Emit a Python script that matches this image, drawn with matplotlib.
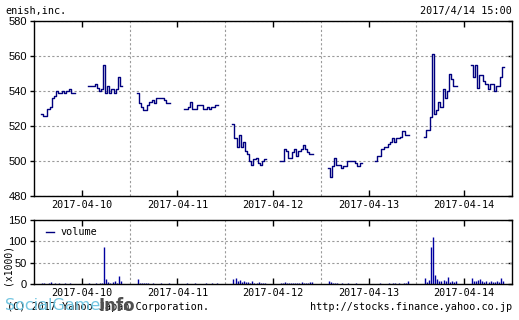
import numpy as np
import matplotlib
matplotlib.use("Agg")
import matplotlib.pyplot as plt
from matplotlib.lines import Line2D

# ---------------- data ----------------
dates = ["2017-04-10", "2017-04-11", "2017-04-12", "2017-04-13", "2017-04-14"]
ticker = "enish,inc."
stamp = "2017/4/14 15:00"

# sessions in minutes of day (morning, afternoon)
am_session = (540, 690)   # 9:00 - 11:30
pm_session = (750, 900)   # 12:30 - 15:00
win_start, win_len = 508, 426  # chart window per day (minutes)

price_am = [
    [527, 526, 526, 530, 531, 536, 537, 540, 539, 539, 540, 539, 540, 541, 539, 539],
    [539, 533, 531, 529, 529, 532, 534, 535, 533, 536, 536, 536, 536, 535, 533, 533],
    [521, 513, 508, 515, 508, 511, 506, 504, 500, 498, 501, 502, 499, 498, 500, 501],
    [496, 491, 497, 502, 498, 498, 496, 497, 497, 500, 500, 500, 500, 499, 497, 499],
    [514, 518, 518, 525, 561, 527, 529, 534, 531, 541, 536, 540, 550, 547, 543, 543],
]
price_pm = [
    [543, 543, 543, 544, 542, 540, 541, 555, 539, 543, 539, 541, 539, 541, 548, 543],
    [530, 530, 531, 534, 530, 530, 532, 532, 532, 530, 530, 531, 530, 531, 531, 532],
    [500, 500, 507, 506, 502, 502, 505, 507, 503, 506, 507, 509, 507, 505, 504, 504],
    [500, 503, 503, 507, 508, 508, 510, 511, 513, 511, 513, 513, 514, 517, 515, 515],
    [555, 548, 555, 542, 549, 549, 546, 544, 541, 544, 544, 540, 543, 543, 548, 554],
]
vol_am = [
    [3, 2, 1, 2, 4, 1, 2, 1, 2, 1, 1, 2, 1, 2, 1, 1],
    [11, 3, 2, 3, 2, 2, 1, 2, 1, 1, 1, 2, 1, 1, 1, 2],
    [12, 15, 8, 10, 5, 6, 4, 5, 3, 6, 3, 2, 4, 3, 2, 3],
    [6, 4, 2, 3, 2, 1, 2, 1, 1, 2, 1, 1, 1, 2, 1, 1],
    [14, 5, 9, 87, 111, 20, 12, 8, 6, 10, 7, 16, 5, 6, 4, 8],
]
vol_pm = [
    [2, 1, 1, 3, 1, 2, 3, 87, 12, 4, 3, 5, 6, 3, 19, 6],
    [1, 2, 1, 1, 1, 2, 1, 1, 1, 1, 2, 1, 1, 2, 1, 3],
    [3, 2, 4, 3, 2, 3, 2, 3, 3, 2, 4, 3, 2, 3, 4, 5],
    [1, 1, 2, 1, 1, 1, 2, 1, 3, 2, 1, 2, 1, 3, 2, 8],
    [14, 6, 8, 9, 12, 6, 5, 7, 4, 6, 5, 4, 6, 5, 14, 7],
]
price_ticks = [480, 500, 520, 540, 560, 580]
vol_ticks = [0, 50, 100, 150]

# ---------------- style ----------------
W, H = 519, 320
LINE = "#00007f"
VOL = "#0000a0"
GRID = dict(color="#9a9a9a", linestyle=(0, (2, 2)), linewidth=0.8)
MONO = "DejaVu Sans Mono"
SANS = "Liberation Sans"

fig = plt.figure(figsize=(W / 100, H / 100), dpi=100)
ax = fig.add_axes([34 / W, 124 / H, 478 / W, 175 / H])
axv = fig.add_axes([34 / W, 36 / H, 478 / W, 64 / H])


def tx(day, minute):
    return day + (np.asarray(minute, float) - win_start) / win_len


for d in range(len(dates)):
    for sess, prices, vols in ((am_session, price_am[d], vol_am[d]),
                               (pm_session, price_pm[d], vol_pm[d])):
        n = len(prices)
        mins = np.linspace(sess[0], sess[1], n + 1)
        xs = tx(d, mins)
        ys = list(prices) + [prices[-1]]
        ax.plot(xs, ys, drawstyle="steps-post", color=LINE, lw=1.0)
        xc = (xs[:-1] + xs[1:]) / 2
        axv.vlines(xc, 0, vols, color=VOL, lw=1.0)

for a in (ax, axv):
    a.set_xlim(0, len(dates))
    a.set_xticks(np.arange(len(dates)) + 0.5)
    a.set_xticklabels(dates, fontfamily=MONO, fontsize=7.3)
    a.set_xticks(np.arange(1, len(dates)), minor=True)
    a.grid(which="minor", axis="x", **GRID)
    a.grid(which="major", axis="y", **GRID)
    a.tick_params(axis="x", which="major", direction="in", top=True, bottom=True,
                  length=4, width=1, pad=3)
    a.tick_params(axis="x", which="minor", length=0)
    a.tick_params(axis="y", which="major", direction="out", length=3, width=1, pad=2,
                  labelsize=8)
    for s in a.spines.values():
        s.set_linewidth(1.0)
        s.set_color("black")
    a.set_axisbelow(True)

ax.set_ylim(price_ticks[0], price_ticks[-1])
ax.set_yticks(price_ticks)
ax.set_yticklabels([str(v) for v in price_ticks], fontfamily=SANS, fontsize=8)
axv.set_ylim(vol_ticks[0], vol_ticks[-1])
axv.set_yticks(vol_ticks)
axv.set_yticklabels([str(v) for v in vol_ticks], fontfamily=SANS, fontsize=8)

for a, t in ((ax, price_ticks), (axv, vol_ticks)):
    sec = a.secondary_yaxis("right")
    sec.set_yticks(t)
    sec.tick_params(direction="in", length=3, width=1, labelright=False)
    sec.spines["right"].set_visible(False)

axv.set_ylabel("(x1000)", fontfamily=MONO, fontsize=7.0)
axv.yaxis.label.set_verticalalignment("center")
axv.yaxis.set_label_coords(-27 / 478, 0.31)

leg = axv.legend([Line2D([], [], color=LINE, lw=1.0)], ["volume"],
                 loc="upper left", frameon=False, prop=dict(family=MONO, size=7.3),
                 handlelength=0.8, handletextpad=0.6, borderaxespad=0.3,
                 bbox_to_anchor=(0.01, 1.0))

fig.text(5 / W, 1 - 11 / H, ticker, fontfamily=MONO, fontsize=7.3, va="center", ha="left")
fig.text(512 / W, 1 - 11 / H, stamp, fontfamily=MONO, fontsize=7.3, va="center", ha="right")
fig.text(7 / W, 1 - 307 / H, "(C) 2017 Yahoo Japan Corporation.", fontfamily=MONO,
         fontsize=7.3, va="center", ha="left")
fig.text(512 / W, 1 - 307 / H, "http://stocks.finance.yahoo.co.jp", fontfamily=MONO,
         fontsize=7.3, va="center", ha="right")
# watermark
fig.text(5 / W, 1 - 306 / H, "SocialGame", fontfamily="DejaVu Sans", fontsize=11.5,
         color="#6cc3e0", va="center", ha="left", alpha=0.95)
fig.text(99 / W, 1 - 306 / H, "Info", fontfamily="DejaVu Sans", fontsize=12,
         fontweight="bold", color="#505050", va="center", ha="left")

fig.savefig("out.png", dpi=100, facecolor="white")
